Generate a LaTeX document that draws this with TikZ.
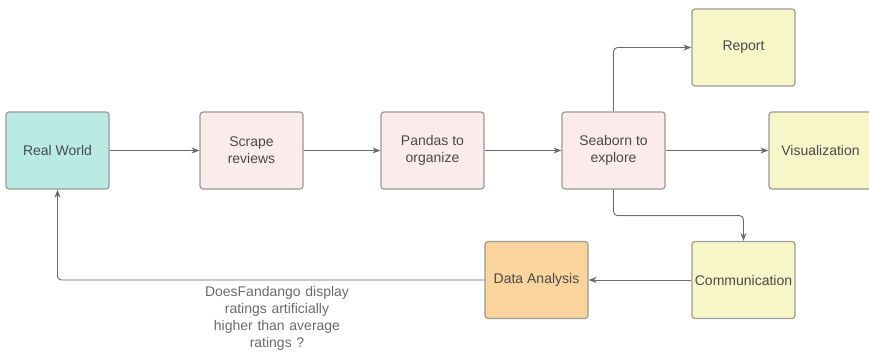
\documentclass[tikz,border=0pt]{standalone}
\usepackage{fontspec}
\setmainfont{Liberation Sans}
\usepackage{tikz}
\usetikzlibrary{arrows.meta,calc,positioning}
\definecolor{tealfill}{HTML}{B9EBE4}
\definecolor{pinkfill}{HTML}{FCEBEB}
\definecolor{yellowfill}{HTML}{F7F6C8}
\definecolor{orangefill}{HTML}{F9D49C}
\definecolor{boxline}{HTML}{9A9A96}
\definecolor{textgrey}{HTML}{4A4A4A}
\definecolor{linegrey}{HTML}{6A6A6A}
\tikzset{
    mybox/.style={draw=boxline,line width=1.2pt,rounded corners=3pt,
      minimum width=103pt,minimum height=77pt,inner sep=1pt,
      align=center,text=textgrey,font=\fontsize{14}{17}\selectfont},
    myarrow/.style={draw=linegrey,line width=0.9pt,rounded corners=4pt,
      -{Stealth[length=8pt,width=6pt]}},
    every node/.style={font=\fontsize{14}{17}\selectfont}
}
\begin{document}
\begin{tikzpicture}[x=1pt,y=-1pt]
  \useasboundingbox (0,0) rectangle (869,353);

  % main row
  \node[mybox,fill=tealfill]   (realworld) at (57.5,150.5) {Real World};
  \node[mybox,fill=pinkfill]   (scrape)    at (251.5,150.5) {Scrape\\reviews};
  \node[mybox,fill=pinkfill]   (pandas)    at (432.5,150.5) {Pandas to\\organize};
  \node[mybox,fill=pinkfill]   (seaborn)   at (613.5,150.5) {Seaborn to\\explore};

  % outputs
  \node[mybox,fill=yellowfill] (report)    at (743.5,47.5)  {Report};
  \node[mybox,fill=yellowfill] (visual)    at (820.5,150.5) {Visualization};
  \node[mybox,fill=yellowfill,inner sep=0pt] (communic) at (743.5,280) {Communication};
  \node[mybox,fill=orangefill] (analysis)  at (536.5,280)   {Data Analysis};

  % question under the loop
  \node[align=center,text=linegrey,text width=170pt] (question) at (277,318)
    {DoesFandango display\\ratings artificially\\higher than average\\ratings ?};

  \draw[myarrow] (realworld) -- (scrape);
  \draw[myarrow] (scrape) -- (pandas);
  \draw[myarrow] (pandas) -- (seaborn);
  \draw[myarrow] (seaborn) -- (visual);
  \draw[myarrow] (seaborn.north) |- (report.west);
  \draw[myarrow] (seaborn.south) -- ++(0,26) -| (communic.north);
  \draw[myarrow] (communic) -- (analysis);
  \draw[myarrow] (analysis.west) -| (realworld.south);
\end{tikzpicture}
\end{document}
